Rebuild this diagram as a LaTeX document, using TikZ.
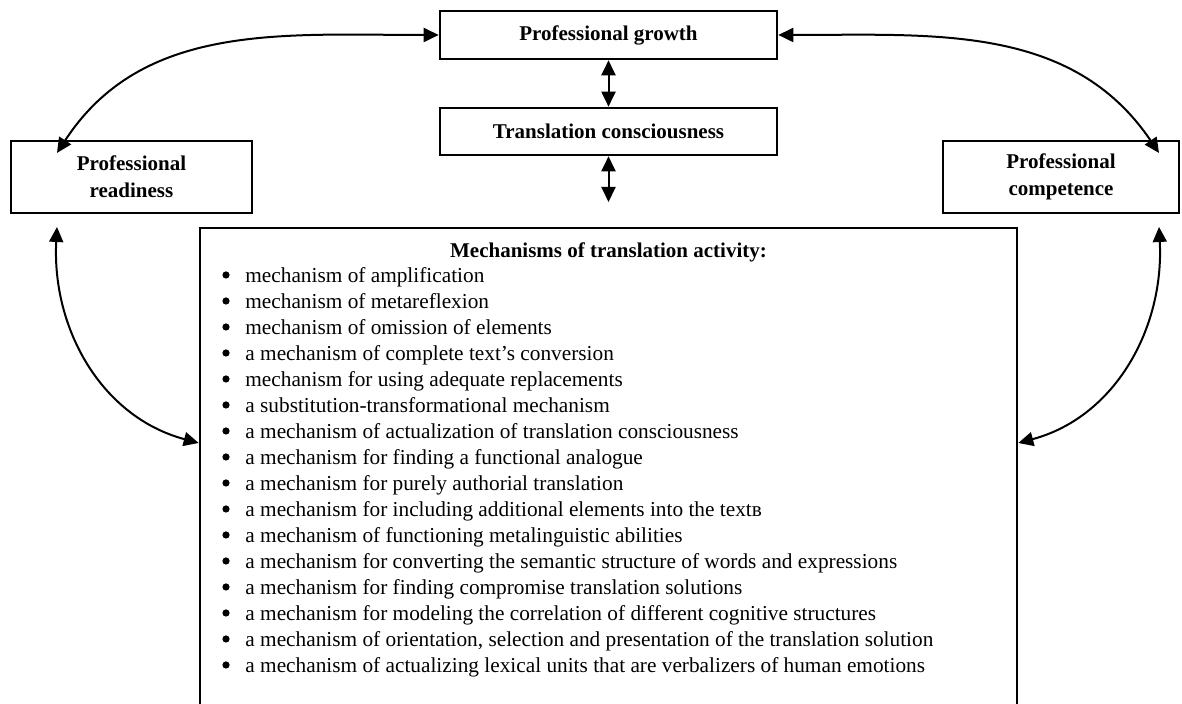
\documentclass[tikz,border=0pt]{standalone}
\usepackage{fontspec}
\setmainfont{Liberation Serif}
\usetikzlibrary{arrows.meta}

\begin{document}
\begin{tikzpicture}[x=0.5pt, y=0.5pt,
          box/.style={rectangle, draw, line width=1.3pt, align=center,
                      inner sep=0pt, font=\fontsize{10.5}{13.5}\selectfont\bfseries},
          dbl/.style={{Triangle[length=7.5pt,width=7pt]}-{Triangle[length=7.5pt,width=7pt]},
                      line width=1pt},
          item/.style={anchor=base west, inner sep=0pt,
                       font=\fontsize{10.65}{13}\selectfont},
          bullet/.style={circle, fill, inner sep=0pt, minimum size=3.6pt}
        ]
        \useasboundingbox (0,0) rectangle (1182,704);

        % Boxes
        \node[box, minimum width=168.5pt, minimum height=24pt] (growth) at (608.5,669)
              {Professional growth};
        \node[box, minimum width=168.5pt, minimum height=23.5pt] (consc) at (608.5,572.5)
              {Translation consciousness};
        \node[box, minimum width=120.5pt, minimum height=36pt] (ready) at (131.5,527)
              {Professional\\readiness};
        \node[box, minimum width=118pt, minimum height=36pt] (compet) at (1061,527)
              {Professional\\competence};
        \node[box, minimum width=408.5pt, minimum height=243pt] (mech) at (608.5,233) {};

        % Mechanisms list
        \node[item, anchor=base, font=\fontsize{10.5}{13}\selectfont\bfseries] (mechtitle)
              at (608.5,446) {Mechanisms of translation activity:};
        \foreach \txt [count=\i] in {
            {mechanism of amplification},
            {mechanism of metareflexion},
            {mechanism of omission of elements},
            {a mechanism of complete text’s conversion},
            {mechanism for using adequate replacements},
            {a substitution-transformational mechanism},
            {a mechanism of actualization of translation consciousness},
            {a mechanism for finding a functional analogue},
            {a mechanism for purely authorial translation},
            {a mechanism for including additional elements into the textв},
            {a mechanism of functioning metalinguistic abilities},
            {a mechanism for converting the semantic structure of words and expressions},
            {a mechanism for finding compromise translation solutions},
            {a mechanism for modeling the correlation of different cognitive structures},
            {a mechanism of orientation, selection and presentation of the translation solution},
            {a mechanism of actualizing lexical units that are verbalizers of human emotions}} {
          \node[bullet] (bul\i) at (226,455-26*\i) {};
          \node[item] (item\i) at (245,447-26*\i) {\txt};
        }

        % Free ends of the arrows
        \coordinate (cfree) at (608.5,502);
        \coordinate (rtop) at (57,551);
        \coordinate (rbot) at (57,477);
        \coordinate (ctop) at (1159,551);
        \coordinate (cbot) at (1159,477);
        \coordinate (mleft) at (mech.west |- 0,261);
        \coordinate (mright) at (mech.east |- 0,261);

        % Arrows
        \draw[dbl] (growth) -- (consc);
        \draw[dbl] (consc) -- (cfree);
        \draw[dbl] (growth.west) to[out=180, in=57] (rtop);
        \draw[dbl] (growth.east) to[out=0, in=124] (ctop);
        \draw[dbl] (rbot) to[out=-93, in=165] (mleft);
        \draw[dbl] (cbot) to[out=-87, in=15] (mright);
      \end{tikzpicture}
\end{document}
